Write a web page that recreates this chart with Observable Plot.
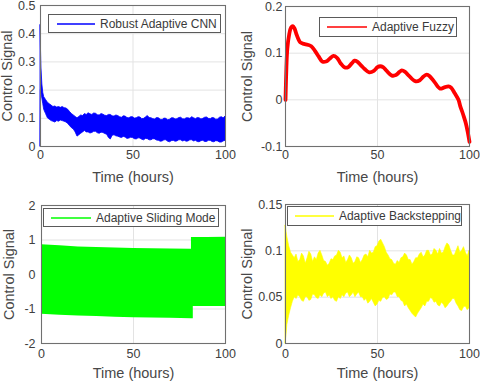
<!DOCTYPE html>
<html><head><meta charset="utf-8">
<script src="https://cdn.jsdelivr.net/npm/d3@7"></script>
<script src="https://cdn.jsdelivr.net/npm/@observablehq/plot@0.6"></script>
<style>
body{margin:0;background:#fff;}
#wrap{position:relative;width:480px;height:382px;font-family:"Liberation Sans",Arial,Helvetica,sans-serif;overflow:hidden;}
.panel{position:absolute;}
.legend{position:absolute;background:#fff;border:1px solid #5a5a5a;box-sizing:border-box;font-size:12px;color:#3a3a3a;display:flex;align-items:center;white-space:nowrap;}
.legend svg{display:block;margin-right:5px;}
</style>
</head><body>
<div id="wrap"></div>
<script>
// ---------- data ----------
const xTicks = [0, 50, 100];

// Panel 1: Robust Adaptive CNN (upper / lower envelope of the oscillating signal)
const t1 = [0,0.2,0.5,1,1.5,2,3,4,5,6,7,8,9,10,11,12,13,14,15,16,17,18,19,20,21,22,23,
  24,25,26,27,28,29,30,31,32,33,34,35,36,37,38,39,40,41,42,43,44,45,46,47,48,49,50,
  51,52,53,54,55,56,57,58,59,60,61,62,63,64,65,66,67,68,69,70,71,72,73,74,75,
  76,77,78,79,80,81,82,83,84,85,86,87,88,89,90,91,92,93,94,95,96,97,98,99,100];
const hi1 = [0.43,0.36,0.28,0.22,0.19,0.175,0.165,0.155,0.15,0.145,0.14,0.142,0.138,0.14,0.137,0.14,0.136,0.135,0.13,0.122,0.115,0.11,0.105,0.1,0.105,0.11,0.108,
  0.115,0.112,0.118,0.114,0.112,0.117,0.116,0.111,0.11,0.115,0.113,0.109,0.108,0.112,0.112,0.107,0.106,0.11,0.108,0.104,0.102,0.107,0.106,0.101,0.1,0.104,0.104,
  0.099,0.1,0.104,0.103,0.097,0.098,0.103,0.108,0.101,0.1,0.097,0.096,0.101,0.1,0.095,0.094,0.099,0.098,0.093,0.095,0.1,0.1,0.096,0.097,0.101,
  0.102,0.097,0.096,0.1,0.1,0.098,0.104,0.1,0.097,0.101,0.1,0.096,0.098,0.102,0.103,0.098,0.097,0.101,0.1,0.095,0.096,0.102,0.104,0.1,0.106];
const lo1 = [0,0.2,0.19,0.17,0.15,0.13,0.115,0.1,0.095,0.09,0.088,0.085,0.09,0.088,0.092,0.09,0.088,0.085,0.08,0.072,0.065,0.06,0.05,0.035,0.04,0.045,0.05,
  0.055,0.05,0.05,0.046,0.048,0.052,0.052,0.047,0.045,0.049,0.048,0.044,0.042,0.03,0.025,0.038,0.04,0.036,0.035,0.032,0.03,0.034,0.032,0.027,0.028,0.031,0.03,
  0.026,0.025,0.029,0.028,0.024,0.022,0.027,0.026,0.022,0.022,0.026,0.025,0.021,0.02,0.017,0.018,0.022,0.022,0.017,0.015,0.019,0.02,0.017,0.018,0.022,
  0.022,0.018,0.02,0.017,0.018,0.022,0.022,0.018,0.02,0.016,0.015,0.019,0.02,0.016,0.016,0.02,0.02,0.016,0.015,0.019,0.018,0.014,0.014,0.018,0.02];
const yTicks1 = [0, 0.1, 0.2, 0.3, 0.4, 0.5];

// Panel 2: Adaptive Fuzzy
const t2 = [0,0.5,1,2,3,4,5,6,7,8,10,12,14,16,18,20,22,24,26,28,30,32,34,36,37.5,39,41,43,45.5,48,50,51.5,53,55,57.8,60,62,63.2,65,67,70.5,73,75,76.8,78.5,81,84,86,88.6,90,92,94,95,96,97,98,99,100];
const y2 = [0,0.07,0.11,0.14,0.155,0.158,0.152,0.14,0.13,0.123,0.12,0.118,0.115,0.105,0.093,0.082,0.082,0.088,0.094,0.09,0.078,0.07,0.07,0.078,0.084,0.082,0.074,0.066,0.059,0.062,0.07,0.072,0.07,0.062,0.052,0.053,0.06,0.063,0.06,0.052,0.04,0.042,0.05,0.054,0.05,0.038,0.024,0.026,0.029,0.026,0.014,0.0,-0.014,-0.025,-0.037,-0.05,-0.068,-0.09];
const yTicks2 = [-0.1, 0, 0.1, 0.2];

// Panel 3: Adaptive Sliding Mode
const t3 = [0,10,20,30,40,50,60,70,81.5,81.5,82.5,82.5,90,100];
const hi3 = [0.86,0.83,0.8,0.78,0.765,0.755,0.745,0.74,0.735,1.07,1.07,1.07,1.075,1.08];
const lo3 = [-1.15,-1.18,-1.2,-1.22,-1.24,-1.25,-1.26,-1.27,-1.28,-1.28,-1.28,-0.93,-0.93,-0.93];
const yTicks3 = [-2, -1, 0, 1, 2];

// Panel 4: Adaptive Backstepping
const t4 = [0,0.3,0.6,1,1.5,2,3,4,5,6,7,8,9,10,11,12,13,14,15,16,17,18,19,20,21,22,23,24,25,26,27,28,29,30,
  31,32,33,34,35,36,37,38,39,40,41,42,43,44,45,46,47,48,49,50,51,52,53,54,55,56,57,58,59,60,61,62,63,64,65,
  66,67,68,69,70,71,72,73,74,75,76,77,78,79,80,81,82,83,84,85,86,87,88,89,90,91,92,93,94,95,96,97,98,99,100];
const hi4 = [0.127,0.125,0.12,0.115,0.11,0.105,0.098,0.095,0.092,0.096,0.088,0.09,0.097,0.094,0.086,0.092,0.099,0.096,0.088,0.093,0.09,0.097,0.1,0.095,0.089,0.088,0.084,0.086,0.091,0.09,0.094,0.095,0.1,0.098,
  0.092,0.094,0.087,0.09,0.095,0.092,0.086,0.088,0.093,0.092,0.087,0.09,0.095,0.096,0.093,0.1,0.097,0.098,0.104,0.105,0.11,0.112,0.108,0.104,0.098,0.095,0.091,0.09,0.086,0.085,0.089,0.087,0.092,0.093,0.097,
  0.095,0.09,0.09,0.085,0.088,0.092,0.092,0.096,0.098,0.093,0.095,0.1,0.1,0.095,0.096,0.102,0.1,0.096,0.102,0.097,0.098,0.104,0.108,0.106,0.1,0.095,0.095,0.1,0.105,0.098,0.1,0.104,0.098,0.094,0.1];
const lo4 = [0,0.005,0.01,0.02,0.025,0.03,0.038,0.045,0.05,0.048,0.052,0.05,0.046,0.045,0.05,0.05,0.046,0.047,0.053,0.052,0.049,0.048,0.052,0.05,0.054,0.055,0.05,0.052,0.048,0.05,0.046,0.045,0.05,0.048,
  0.052,0.05,0.054,0.055,0.05,0.052,0.055,0.05,0.053,0.055,0.05,0.05,0.046,0.048,0.043,0.045,0.048,0.044,0.04,0.042,0.046,0.045,0.049,0.05,0.047,0.048,0.053,0.052,0.055,0.055,0.05,0.05,0.046,0.045,0.04,
  0.042,0.038,0.035,0.032,0.03,0.028,0.032,0.035,0.038,0.042,0.04,0.045,0.045,0.049,0.048,0.044,0.045,0.041,0.04,0.044,0.042,0.038,0.04,0.043,0.045,0.048,0.048,0.043,0.04,0.036,0.035,0.039,0.04,0.036,0.038];
const yTicks4 = [0, 0.05, 0.1, 0.15];

const names = ["Robust Adaptive CNN", "Adaptive Fuzzy", "Adaptive Sliding Mode", "Adaptive Backstepping"];
const colors = ["#0000ff", "#ff0000", "#00ff00", "#ffff00"];

// ---------- tables ----------
const band = (t, hi, lo) => t.map((v, i) => ({t: v, hi: hi[i], lo: lo[i]}));
const d1 = band(t1, hi1, lo1);
const d2 = t2.map((v, i) => ({t: v, y: y2[i]}));
const d3 = band(t3, hi3, lo3);
const d4 = band(t4, hi4, lo4);

const FONT = '"Liberation Sans", Arial, Helvetica, sans-serif';
const TXT = "#404040";
const LAB = "#484848";
const wrap = document.getElementById("wrap");
const NS = "http://www.w3.org/2000/svg";

function panel(cfg) {
  const svg = Plot.plot({
    width: 240, height: 191,
    marginLeft: cfg.mL, marginRight: cfg.mR, marginTop: cfg.mT, marginBottom: cfg.mB,
    style: {fontFamily: FONT, fontSize: "12.5px", color: TXT, background: "transparent", overflow: "visible"},
    x: {domain: [0, 100], label: null},
    y: {domain: cfg.yDomain, label: null},
    marks: [
      Plot.gridX(xTicks, {stroke: "#e3e3e3", strokeOpacity: 1}),
      Plot.gridY(cfg.yTicks, {stroke: "#e3e3e3", strokeOpacity: 1}),
      ...cfg.marks,
      Plot.frame({stroke: "#707070", strokeWidth: 1.1}),
      Plot.axisX(xTicks, {tickSize: 0, tickPadding: cfg.xPad, fontSize: 12.5, fill: TXT, label: null}),
      Plot.axisY(cfg.yTicks, {tickSize: 0, tickPadding: cfg.yPad, tickFormat: d => String(d), fontSize: 12.5, fill: TXT, label: null}),
      Plot.axisX([], {label: "Time (hours)", labelAnchor: "center", labelArrow: "none", labelOffset: cfg.xLab, fontSize: 14.5, fontWeight: "normal", fill: LAB}),
      Plot.axisY([], {label: "Control Signal", labelAnchor: "center", labelArrow: "none", labelOffset: cfg.yLab, fontSize: 14.5, fontWeight: "normal", fill: LAB})
    ]
  });
  const div = document.createElement("div");
  div.className = "panel";
  div.style.left = cfg.left + "px";
  div.style.top = cfg.top + "px";
  div.appendChild(svg);
  wrap.appendChild(div);

  // legend box (layout only)
  const lg = document.createElement("div");
  lg.className = "legend";
  Object.assign(lg.style, {left: cfg.lg[0] + "px", top: cfg.lg[1] + "px", width: cfg.lg[2] + "px", height: cfg.lg[3] + "px", paddingLeft: cfg.lg[4] + "px"});
  const sw = document.createElementNS(NS, "svg");
  sw.setAttribute("width", cfg.lg[5]);
  sw.setAttribute("height", 4);
  const ln = document.createElementNS(NS, "line");
  ln.setAttribute("x1", 0); ln.setAttribute("x2", cfg.lg[5]);
  ln.setAttribute("y1", 2); ln.setAttribute("y2", 2);
  ln.setAttribute("stroke", cfg.color);
  ln.setAttribute("stroke-width", 1.5);
  sw.appendChild(ln);
  lg.appendChild(sw);
  lg.appendChild(document.createTextNode(cfg.name));
  wrap.appendChild(lg);
}

panel({
  left: 0, top: 0, mL: 40, mR: 15, mT: 5, mB: 45, xPad: 4, yPad: 5, xLab: 35, yLab: 39,
  yDomain: [0, 0.5], yTicks: yTicks1, color: colors[0], name: names[0],
  lg: [48, 14, 173, 19, 8, 38],
  marks: [Plot.areaY(d1, {x: "t", y1: "lo", y2: "hi", fill: colors[0], stroke: colors[0], strokeWidth: 0.8})]
});
panel({
  left: 240, top: 0, mL: 45, mR: 11, mT: 6, mB: 45, xPad: 4, yPad: 3, xLab: 35, yLab: 44,
  yDomain: [-0.1, 0.2], yTicks: yTicks2, color: colors[1], name: names[1],
  lg: [319, 17, 138, 20, 7, 40],
  marks: [Plot.line(d2, {x: "t", y: "y", stroke: colors[1], strokeWidth: 3.8, curve: "catmull-rom"})]
});
panel({
  left: 0, top: 191, mL: 41, mR: 15, mT: 14, mB: 39, xPad: 6, yPad: 6, xLab: 34, yLab: 38,
  yDomain: [-2, 2], yTicks: yTicks3, color: colors[2], name: names[2],
  lg: [43, 208, 176, 19, 7, 40],
  marks: [Plot.areaY(d3, {x: "t", y1: "lo", y2: "hi", fill: colors[2]})]
});
panel({
  left: 240, top: 191, mL: 45, mR: 11, mT: 13, mB: 39, xPad: 6, yPad: 3, xLab: 34, yLab: 44,
  yDomain: [0, 0.15], yTicks: yTicks4, color: colors[3], name: names[3],
  lg: [287, 206, 175, 20, 7, 40],
  marks: [Plot.areaY(d4, {x: "t", y1: "lo", y2: "hi", fill: colors[3], stroke: colors[3], strokeWidth: 0.6})]
});
</script>
</body></html>
